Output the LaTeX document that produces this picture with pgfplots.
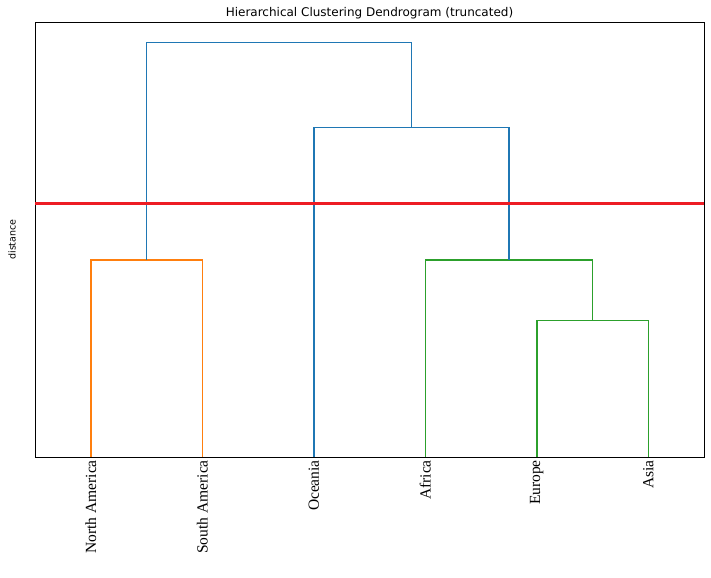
\documentclass[border=0pt]{standalone}
\usepackage{pgfplots}
\pgfplotsset{compat=1.18}
\usetikzlibrary{calc}
\usepackage{fontspec}
\setmainfont{DejaVu Sans}
\newfontfamily\tickfont{Liberation Serif}
\definecolor{cblue}{HTML}{1F77B4}
\definecolor{corange}{HTML}{FF7F0E}
\definecolor{cgreen}{HTML}{2CA02C}
\definecolor{cred}{RGB}{237,28,36}
\begin{document}
\begin{tikzpicture}
\begin{axis}[
  name=ax,
  scale only axis,
  width=669bp, height=435bp,
  xmin=0, xmax=60, ymin=0, ymax=10.5,
  axis line style={black, line width=0.8bp},
  xtick={5,15,25,35,45,55},
  xticklabels={North America,South America,Oceania,Africa,Europe,Asia},
  x tick label style={rotate=90, anchor=east, font=\tickfont\fontsize{15.5bp}{17bp}\selectfont, inner sep=0pt, xshift=-3bp},
  major tick length=0pt,
  ytick=\empty,
  title={Hierarchical Clustering Dendrogram (truncated)},
  every axis title shift=0pt,
  title style={font=\fontsize{12bp}{14bp}\selectfont, at={(axis description cs:0.5,1)}, anchor=base, yshift=5bp, inner sep=0pt},
  ylabel={distance},
  ylabel style={font=\fontsize{9.5bp}{11bp}\selectfont, at={(axis description cs:-0.0344,0.5)}, anchor=center, inner sep=0pt},
  clip=false,
]
\addplot[corange, line width=1.5bp] coordinates {(5,0) (5,4.76) (15,4.76) (15,0)};
\addplot[cgreen, line width=1.5bp] coordinates {(45,0) (45,3.29) (55,3.29) (55,0)};
\addplot[cgreen, line width=1.5bp] coordinates {(35,0) (35,4.76) (50,4.76) (50,3.29)};
\addplot[cblue, line width=1.5bp] coordinates {(25,0) (25,7.95) (42.5,7.95) (42.5,4.76)};
\addplot[cblue, line width=1.5bp] coordinates {(10,4.76) (10,10) (33.75,10) (33.75,7.95)};
\addplot[cred, line width=3bp] coordinates {(0,6.13) (60,6.13)};
\end{axis}
\pgfresetboundingbox
\path ($(ax.south west)+(-35bp,-120bp)$) rectangle ($(ax.north east)+(7bp,22bp)$);
\end{tikzpicture}
\end{document}
